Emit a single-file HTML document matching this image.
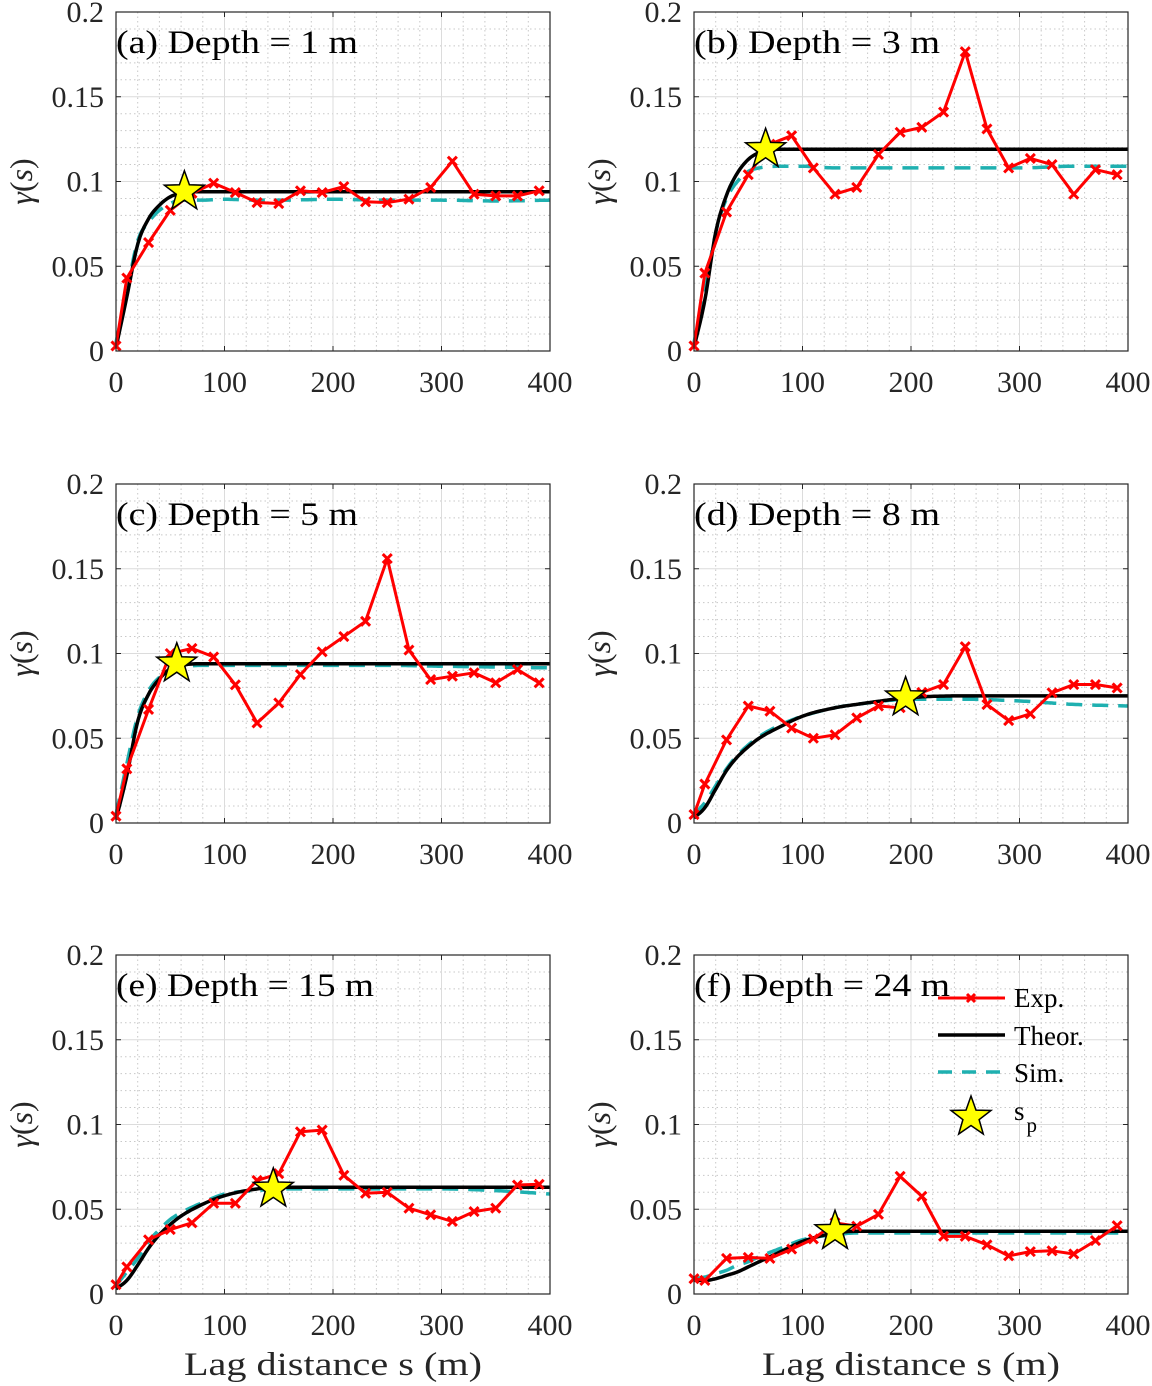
<!DOCTYPE html>
<html><head><meta charset="utf-8">
<style>
html,body{margin:0;padding:0;background:#fff;}
svg{display:block;font-family:"Liberation Serif",serif;}
</style></head>
<body>
<svg id="fig" width="1152" height="1386" viewBox="0 0 1152 1386" xmlns="http://www.w3.org/2000/svg"></svg>
<script>
// ---- data ----
const expLags = [0,10,30,50,70,90,110,130,150,170,190,210,230,250,270,290,310,330,350,370,390];
const expA = [0.003,0.043,0.064,0.083,0.093,0.099,0.0935,0.0876,0.087,0.0945,0.0935,0.097,0.088,0.0876,0.0896,0.0965,0.112,0.0925,0.0915,0.0915,0.0945];
const expB = [0.003,0.046,0.082,0.104,0.122,0.127,0.108,0.0925,0.0965,0.116,0.129,0.132,0.141,0.1766,0.131,0.108,0.1136,0.110,0.0925,0.107,0.104];
const expC = [0.004,0.032,0.067,0.1,0.103,0.098,0.0815,0.059,0.0708,0.0876,0.101,0.110,0.119,0.156,0.102,0.0846,0.0866,0.0886,0.0827,0.0905,0.0827];
const expD = [0.005,0.023,0.049,0.069,0.066,0.056,0.050,0.052,0.062,0.069,0.068,0.077,0.0817,0.104,0.0699,0.0604,0.0644,0.0768,0.0817,0.0817,0.0797];
const expE = [0.0055,0.016,0.032,0.038,0.042,0.0535,0.0535,0.067,0.071,0.0957,0.0967,0.070,0.0594,0.060,0.0506,0.0467,0.0428,0.0486,0.0506,0.0643,0.0647];
const expF = [0.009,0.008,0.021,0.0216,0.021,0.0265,0.0325,0.042,0.040,0.047,0.0694,0.0576,0.034,0.034,0.029,0.0225,0.025,0.0255,0.0236,0.0315,0.0403];

const curveLags = [0,10,20,30,40,50,60,80,100,130,150,200,250,300,350,400];
const theorA = [0.002,0.032,0.063,0.078,0.086,0.091,0.093,0.094,0.094,0.094,0.094,0.094,0.094,0.094,0.094,0.094];
const simA   = [0.005,0.035,0.065,0.076,0.083,0.087,0.089,0.089,0.0895,0.089,0.089,0.0895,0.089,0.089,0.0885,0.089];
const theorB = [0.002,0.03,0.07,0.092,0.105,0.113,0.117,0.119,0.119,0.119,0.119,0.119,0.119,0.119,0.119,0.119];
const simB   = [0.005,0.035,0.07,0.09,0.1,0.106,0.108,0.109,0.109,0.108,0.108,0.108,0.108,0.108,0.109,0.109];
const theorC = [0.002,0.028,0.06,0.076,0.085,0.091,0.093,0.094,0.094,0.094,0.094,0.094,0.094,0.094,0.094,0.094];
const simC   = [0.005,0.035,0.063,0.078,0.086,0.09,0.092,0.093,0.093,0.093,0.093,0.093,0.093,0.0925,0.092,0.0915];
const theorD = [0.003,0.009,0.02,0.031,0.039,0.045,0.05,0.057,0.063,0.068,0.070,0.074,0.075,0.075,0.075,0.075];
const simD   = [0.005,0.012,0.022,0.032,0.04,0.046,0.051,0.058,0.063,0.068,0.070,0.073,0.073,0.072,0.070,0.069];
const theorE = [0.003,0.008,0.017,0.027,0.035,0.041,0.046,0.053,0.058,0.062,0.063,0.063,0.063,0.063,0.063,0.063];
const simE   = [0.005,0.013,0.021,0.031,0.038,0.044,0.048,0.054,0.059,0.061,0.062,0.062,0.062,0.062,0.061,0.059];
const theorF = [0.008,0.008,0.009,0.011,0.013,0.016,0.019,0.025,0.031,0.036,0.037,0.037,0.037,0.037,0.037,0.037];
const simF   = [0.009,0.010,0.012,0.014,0.017,0.019,0.022,0.027,0.032,0.035,0.036,0.036,0.036,0.036,0.036,0.036];

const starLags = [63,66,56,195,145,130];
const starVals = [0.094,0.119,0.094,0.074,0.062,0.037];
const panelTitles = ["(a) Depth = 1 m","(b) Depth = 3 m","(c) Depth = 5 m","(d) Depth = 8 m","(e) Depth = 15 m","(f) Depth = 24 m"];
const xTicks = [0,100,200,300,400];
const yTicks = [0,0.05,0.1,0.15,0.2];
const yTickLabels = ["0","0.05","0.1","0.15","0.2"];

const exps = [expA,expB,expC,expD,expE,expF];
const theors = [theorA,theorB,theorC,theorD,theorE,theorF];
const sims = [simA,simB,simC,simD,simE,simF];

// ---- layout ----
const NS = "http://www.w3.org/2000/svg";
const svg = document.getElementById('fig');
const colX = [[116,550],[694,1128]];
const rowY = [[12,351],[484,823],[955,1294]];
const titleW = [242,246,242,246,258,256];
const RED="#ff0000", CYAN="#1fb0b0";

function mk(tag, attrs, parent){
  const e=document.createElementNS(NS,tag);
  for(const k in attrs) e.setAttribute(k,attrs[k]);
  (parent||svg).appendChild(e); return e;
}
function monotone(xs, ys){
  const n=xs.length, d=[], m=new Array(n);
  for(let i=0;i<n-1;i++) d.push((ys[i+1]-ys[i])/(xs[i+1]-xs[i]));
  m[0]=d[0]; m[n-1]=d[n-2];
  for(let i=1;i<n-1;i++){ m[i]=(d[i-1]*d[i]<=0)?0:(d[i-1]+d[i])/2; }
  for(let i=0;i<n-1;i++){
    if(d[i]===0){m[i]=0;m[i+1]=0;continue;}
    const a=m[i]/d[i], b=m[i+1]/d[i], s=a*a+b*b;
    if(s>9){const t=3/Math.sqrt(s); m[i]=t*a*d[i]; m[i+1]=t*b*d[i];}
  }
  return function(x){
    let i=0; while(i<n-2 && x>xs[i+1]) i++;
    const h=xs[i+1]-xs[i], t=(x-xs[i])/h, t2=t*t, t3=t2*t;
    return (2*t3-3*t2+1)*ys[i]+(t3-2*t2+t)*h*m[i]+(-2*t3+3*t2)*ys[i+1]+(t3-t2)*h*m[i+1];
  };
}
function starPts(cx,cy,R,r){
  let p=[];
  for(let k=0;k<10;k++){const a=-Math.PI/2+k*Math.PI/5, rr=k%2?r:R; p.push((cx+rr*Math.cos(a)).toFixed(1)+","+(cy+rr*Math.sin(a)).toFixed(1));}
  return p.join(" ");
}
function cross(g,x,y,s){
  const el=mk('path',{d:`M${x-s},${y-s}L${x+s},${y+s}M${x-s},${y+s}L${x+s},${y-s}`,stroke:RED,'stroke-width':3,fill:'none'},g);
  
  
}

for(let p=0;p<6;p++){
  const [x0,x1]=colX[p%2], [y0,y1]=rowY[Math.floor(p/2)];
  const sx=v=>x0+(v/400)*(x1-x0);
  const sy=v=>y1-(v/0.2)*(y1-y0);
  const g=mk('g',{});
  
  
  mk('rect',{x:x0,y:y0,width:x1-x0,height:y1-y0,fill:'#fff'},g);
  let dm='';
  for(let v=20;v<400;v+=20){ if(v%100) dm+=`M${sx(v)},${y0}V${y1}`; }
  for(let k=1;k<20;k++){ if(k%5) dm+=`M${x0},${sy(k*0.01)}H${x1}`; }
  mk('path',{d:dm,stroke:'#c8c8c8','stroke-width':1,'stroke-dasharray':'1.5,3',fill:'none'},g);
  let dM='';
  for(const v of [100,200,300]) dM+=`M${sx(v)},${y0}V${y1}`;
  for(const v of [0.05,0.1,0.15]) dM+=`M${x0},${sy(v)}H${x1}`;
  mk('path',{d:dM,stroke:'#dcdcdc','stroke-width':1,fill:'none'},g);
  let dt='';
  for(const v of xTicks){dt+=`M${sx(v)},${y1}v-5M${sx(v)},${y0}v5`;}
  for(const v of yTicks){dt+=`M${x0},${sy(v)}h5M${x1},${sy(v)}h-5`;}
  mk('path',{d:dt,stroke:'#262626','stroke-width':1,fill:'none'},g);
  xTicks.forEach(v=>{
    const t=mk('text',{x:sx(v),y:y1+41,'text-anchor':'middle','font-size':30,fill:'#262626'},g);
    t.textContent=String(v);
    
    
  });
  yTicks.forEach((v,i)=>{
    const t=mk('text',{x:x0-12,y:sy(v)+10,'text-anchor':'end','font-size':30,fill:'#262626'},g);
    t.textContent=yTickLabels[i];
    
    
  });
  const yl=mk('text',{x:0,y:0,transform:`translate(${x0-84},${(y0+y1)/2}) rotate(-90)`,'text-anchor':'middle','font-size':32,fill:'#262626'},g);
  yl.innerHTML='<tspan font-style="italic">γ</tspan>(<tspan font-style="italic">s</tspan>)';
  
  
  const fs=monotone(curveLags,sims[p]);
  let ds=''; for(let px=0;px<=x1-x0;px+=2){const v=px/(x1-x0)*400; ds+=(px?'L':'M')+sx(v).toFixed(1)+','+sy(fs(v)).toFixed(1);}
  const simPath=mk('path',{d:ds,stroke:CYAN,'stroke-width':3.5,'stroke-dasharray':'16,10',fill:'none'},g);
  
  
  const ft=monotone(curveLags,theors[p]);
  let dtc=''; for(let px=0;px<=x1-x0;px+=2){const v=px/(x1-x0)*400; dtc+=(px?'L':'M')+sx(v).toFixed(1)+','+sy(ft(v)).toFixed(1);}
  const thPath=mk('path',{d:dtc,stroke:'#000','stroke-width':3.5,fill:'none'},g);
  
  
  const ev=exps[p];
  const de=expLags.map((v,i)=>(i?'L':'M')+sx(v).toFixed(1)+','+sy(ev[i]).toFixed(1)).join('');
  const ex=mk('path',{d:de,stroke:RED,'stroke-width':3,fill:'none','stroke-linejoin':'round'},g);
  
  
  expLags.forEach((v,i)=>cross(g,sx(v),sy(ev[i]),4.5));
  const st=mk('polygon',{points:starPts(sx(starLags[p]),sy(starVals[p]),21,8.5),fill:'#ffff00',stroke:'#000','stroke-width':1.5},g);
  
  
  mk('rect',{x:x0,y:y0,width:x1-x0,height:y1-y0,fill:'none',stroke:'#262626','stroke-width':1.2},g);
  const tt=mk('text',{x:x0,y:y0+41,'font-size':33,fill:'#000',textLength:titleW[p],lengthAdjust:'spacingAndGlyphs'},g);
  tt.textContent=panelTitles[p];
  
  
  if(p>=4){
    const xl=mk('text',{x:(x0+x1)/2,y:y1+81,'text-anchor':'middle','font-size':33,fill:'#262626',textLength:298,lengthAdjust:'spacingAndGlyphs'},g);
    xl.textContent='Lag distance s (m)';
    
    
  }
}
const lg=mk('g',{});


const lx0=938,lx1=1005;
mk('path',{d:`M${lx0},998H${lx1}`,stroke:RED,'stroke-width':3},lg);
cross(lg,971,998,4);
mk('path',{d:`M${lx0},1035H${lx1}`,stroke:'#000','stroke-width':3.5},lg);
mk('path',{d:`M${lx0},1072H${lx1}`,stroke:CYAN,'stroke-width':3.5,'stroke-dasharray':'14,10'},lg);
mk('polygon',{points:starPts(971,1117,21,8.5),fill:'#ffff00',stroke:'#000','stroke-width':1.5},lg);
const labels=[['Exp.',1007],['Theor.',1045],['Sim.',1082]];
labels.forEach(([s,y])=>{const t=mk('text',{x:1014,y:y,'font-size':27,fill:'#000'},lg);t.textContent=s;
  
  });
const sp=mk('text',{x:1014,y:1120,'font-size':27,fill:'#000'},lg);
sp.innerHTML='s<tspan dx="2" dy="12" font-size="21">p</tspan>';


</script>
</body></html>
